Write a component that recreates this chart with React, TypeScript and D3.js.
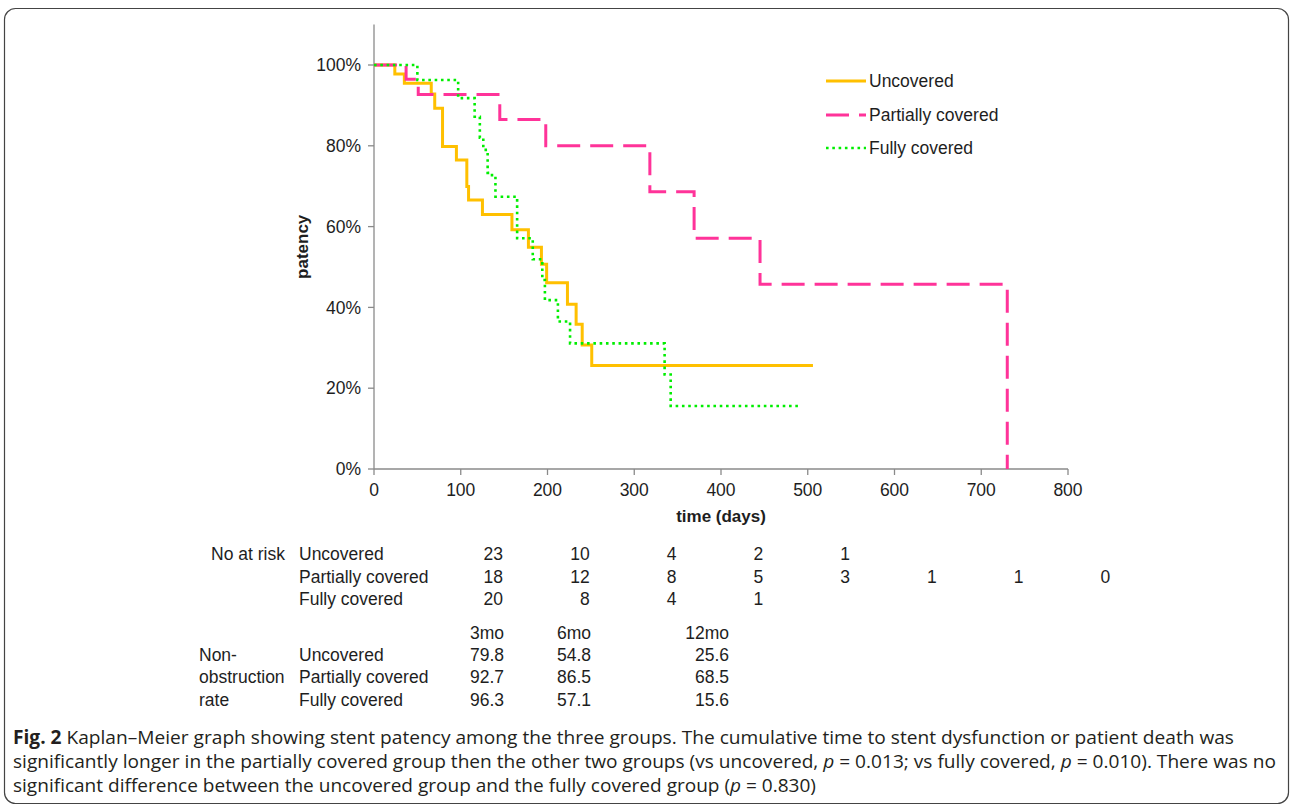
import * as d3 from 'd3';

// Kaplan-Meier step data (day, patency after event)
const uncoveredDays = [0, 24, 35, 66, 70, 79, 95, 107, 109, 125, 159, 178, 193, 199, 223, 233, 240, 251, 506];
const uncoveredSurv = [1, 0.978, 0.955, 0.928, 0.893, 0.798, 0.765, 0.699, 0.666, 0.63, 0.592, 0.549, 0.507, 0.461, 0.408, 0.358, 0.307, 0.256, 0.256];

const partialDays = [0, 37, 51, 145, 198, 318, 369, 445, 730];
const partialSurv = [1, 0.965, 0.927, 0.865, 0.8, 0.686, 0.571, 0.457, 0];

const fullyDays = [0, 50, 97, 116, 122, 126, 131, 136, 140, 165, 183, 194, 197, 212, 226, 335, 342, 489];
const fullySurv = [1, 0.963, 0.918, 0.872, 0.82, 0.79, 0.733, 0.724, 0.674, 0.571, 0.519, 0.468, 0.418, 0.365, 0.311, 0.234, 0.156, 0.156];

const groupNames = ['Uncovered', 'Partially covered', 'Fully covered'];

// number at risk table
const riskTimes = [0, 100, 200, 300, 400, 500, 600, 700];
const riskUncovered = [23, 10, 4, 2, 1];
const riskPartial = [18, 12, 8, 5, 3, 1, 1, 0];
const riskFully = [20, 8, 4, 1];

// non-obstruction rate table
const rateHeaders = ['3mo', '6mo', '12mo'];
const rateUncovered = [79.8, 54.8, 25.6];
const ratePartial = [92.7, 86.5, 68.5];
const rateFully = [96.3, 57.1, 15.6];

const xTicks = [0, 100, 200, 300, 400, 500, 600, 700, 800];
const yTicks = [0, 0.2, 0.4, 0.6, 0.8, 1.0];

const FONT = "'Liberation Sans', Arial, Helvetica, sans-serif";
const CAP_FONT = "'Open Sans', 'Noto Sans', sans-serif";
const TXT = '#1e1e1e';
const AXIS = '#8a8a8a';

const styles = [
  { stroke: '#FFC000', width: 3, dash: null },
  { stroke: '#FF3399', width: 3, dash: '23 10' },
  { stroke: '#00EE00', width: 2.6, dash: '2.6 3.7' },
];

export default function App() {
  const W = 1292;
  const H = 810;

  const x = d3.scaleLinear().domain([0, 800]).range([374, 1068]);
  const y = d3.scaleLinear().domain([0, 1.1]).range([469, 24.6]);

  const line = d3
    .line<[number, number]>()
    .x(d => x(d[0]))
    .y(d => y(d[1]))
    .curve(d3.curveStepAfter);

  const series = [
    d3.zip(uncoveredDays, uncoveredSurv) as [number, number][],
    d3.zip(partialDays, partialSurv) as [number, number][],
    d3.zip(fullyDays, fullySurv) as [number, number][],
  ];

  const pct = d3.format('.0%');
  const riskRows = [riskUncovered, riskPartial, riskFully];
  const rateRows = [rateUncovered, ratePartial, rateFully];
  const rateCols = [504, 591, 729];
  const riskRowY = [560, 583, 605];
  const rateRowY = [661, 683, 706];
  const legendY = [81, 115, 148];

  return (
    <div style={{ position: 'absolute', left: 0, top: 0 }}>
      <svg width={W} height={H} style={{ display: 'block', background: '#fff' }}>
        <rect x={4.5} y={8.5} width={1284} height={795} rx={11} fill="none" stroke="#444" strokeWidth={1.2} />

        {/* axes */}
        <line x1={x(0)} x2={x(0)} y1={y(1.1)} y2={y(0)} stroke={AXIS} strokeWidth={1.3} />
        <line x1={x(0)} x2={x(800)} y1={y(0)} y2={y(0)} stroke={AXIS} strokeWidth={1.3} />
        {yTicks.map(t => (
          <g key={'y' + t}>
            <line x1={x(0) - 6} x2={x(0)} y1={y(t)} y2={y(t)} stroke={AXIS} strokeWidth={1.3} />
            <text x={361} y={y(t)} dy="0.35em" textAnchor="end" fontFamily={FONT} fontSize={17.5} fill={TXT}>
              {pct(t)}
            </text>
          </g>
        ))}
        {xTicks.map(t => (
          <g key={'x' + t}>
            <line x1={x(t)} x2={x(t)} y1={y(0)} y2={y(0) + 6} stroke={AXIS} strokeWidth={1.3} />
            <text x={x(t)} y={496} textAnchor="middle" fontFamily={FONT} fontSize={17.5} fill={TXT}>
              {t}
            </text>
          </g>
        ))}
        <text x={x(400)} y={522} textAnchor="middle" fontFamily={FONT} fontSize={17} fontWeight="bold" fill={TXT}>
          time (days)
        </text>
        <text
          transform={`translate(${308},${y(0.55)}) rotate(-90)`}
          textAnchor="middle"
          fontFamily={FONT}
          fontSize={17}
          fontWeight="bold"
          fill={TXT}
        >
          patency
        </text>

        {/* curves */}
        {series.map((s, i) => (
          <path
            key={'s' + i}
            d={line(s) || ''}
            fill="none"
            stroke={styles[i].stroke}
            strokeWidth={styles[i].width}
            strokeDasharray={styles[i].dash || undefined}
            strokeLinecap={i === 2 ? 'butt' : 'butt'}
          />
        ))}

        {/* legend */}
        {groupNames.map((g, i) => (
          <g key={'l' + i}>
            <line
              x1={826}
              x2={866}
              y1={legendY[i]}
              y2={legendY[i]}
              stroke={styles[i].stroke}
              strokeWidth={styles[i].width}
              strokeDasharray={styles[i].dash || undefined}
            />
            <text x={869} y={legendY[i]} dy="0.35em" fontFamily={FONT} fontSize={17.5} fill={TXT}>
              {g}
            </text>
          </g>
        ))}

        {/* number at risk */}
        <text x={285} y={riskRowY[0]} textAnchor="end" fontFamily={FONT} fontSize={17.5} fill={TXT}>
          No at risk
        </text>
        {groupNames.map((g, i) => (
          <g key={'r' + i}>
            <text x={299} y={riskRowY[i]} fontFamily={FONT} fontSize={17.5} fill={TXT}>
              {g}
            </text>
            {riskRows[i].map((v, j) => (
              <text key={j} x={x(riskTimes[j]) + 129} y={riskRowY[i]} textAnchor="end" fontFamily={FONT} fontSize={17.5} fill={TXT}>
                {v}
              </text>
            ))}
          </g>
        ))}

        {/* non-obstruction rate */}
        {rateHeaders.map((h, j) => (
          <text key={'h' + j} x={rateCols[j]} y={639} textAnchor="end" fontFamily={FONT} fontSize={17.5} fill={TXT}>
            {h}
          </text>
        ))}
        {['Non-', 'obstruction', 'rate'].map((t, i) => (
          <text key={'n' + i} x={199} y={rateRowY[i]} fontFamily={FONT} fontSize={17.5} fill={TXT}>
            {t}
          </text>
        ))}
        {groupNames.map((g, i) => (
          <g key={'o' + i}>
            <text x={299} y={rateRowY[i]} fontFamily={FONT} fontSize={17.5} fill={TXT}>
              {g}
            </text>
            {rateRows[i].map((v, j) => (
              <text key={j} x={rateCols[j]} y={rateRowY[i]} textAnchor="end" fontFamily={FONT} fontSize={17.5} fill={TXT}>
                {v.toFixed(1)}
              </text>
            ))}
          </g>
        ))}

        {/* caption */}
        <g fontFamily={CAP_FONT} fontSize={19} fill="#231f20">
          <text x={13} y={744} textLength={1221} lengthAdjust="spacingAndGlyphs">
            <tspan fontWeight="bold">Fig. 2</tspan> Kaplan–Meier graph showing stent patency among the three groups. The cumulative time to stent dysfunction or patient death was
          </text>
          <text x={13} y={768} textLength={1263} lengthAdjust="spacingAndGlyphs">
            significantly longer in the partially covered group then the other two groups (vs uncovered, <tspan fontStyle="italic">p</tspan> = 0.013; vs fully covered, <tspan fontStyle="italic">p</tspan> = 0.010). There was no
          </text>
          <text x={13} y={792} textLength={803} lengthAdjust="spacingAndGlyphs">
            significant difference between the uncovered group and the fully covered group (<tspan fontStyle="italic">p</tspan> = 0.830)
          </text>
        </g>
      </svg>
    </div>
  );
}
